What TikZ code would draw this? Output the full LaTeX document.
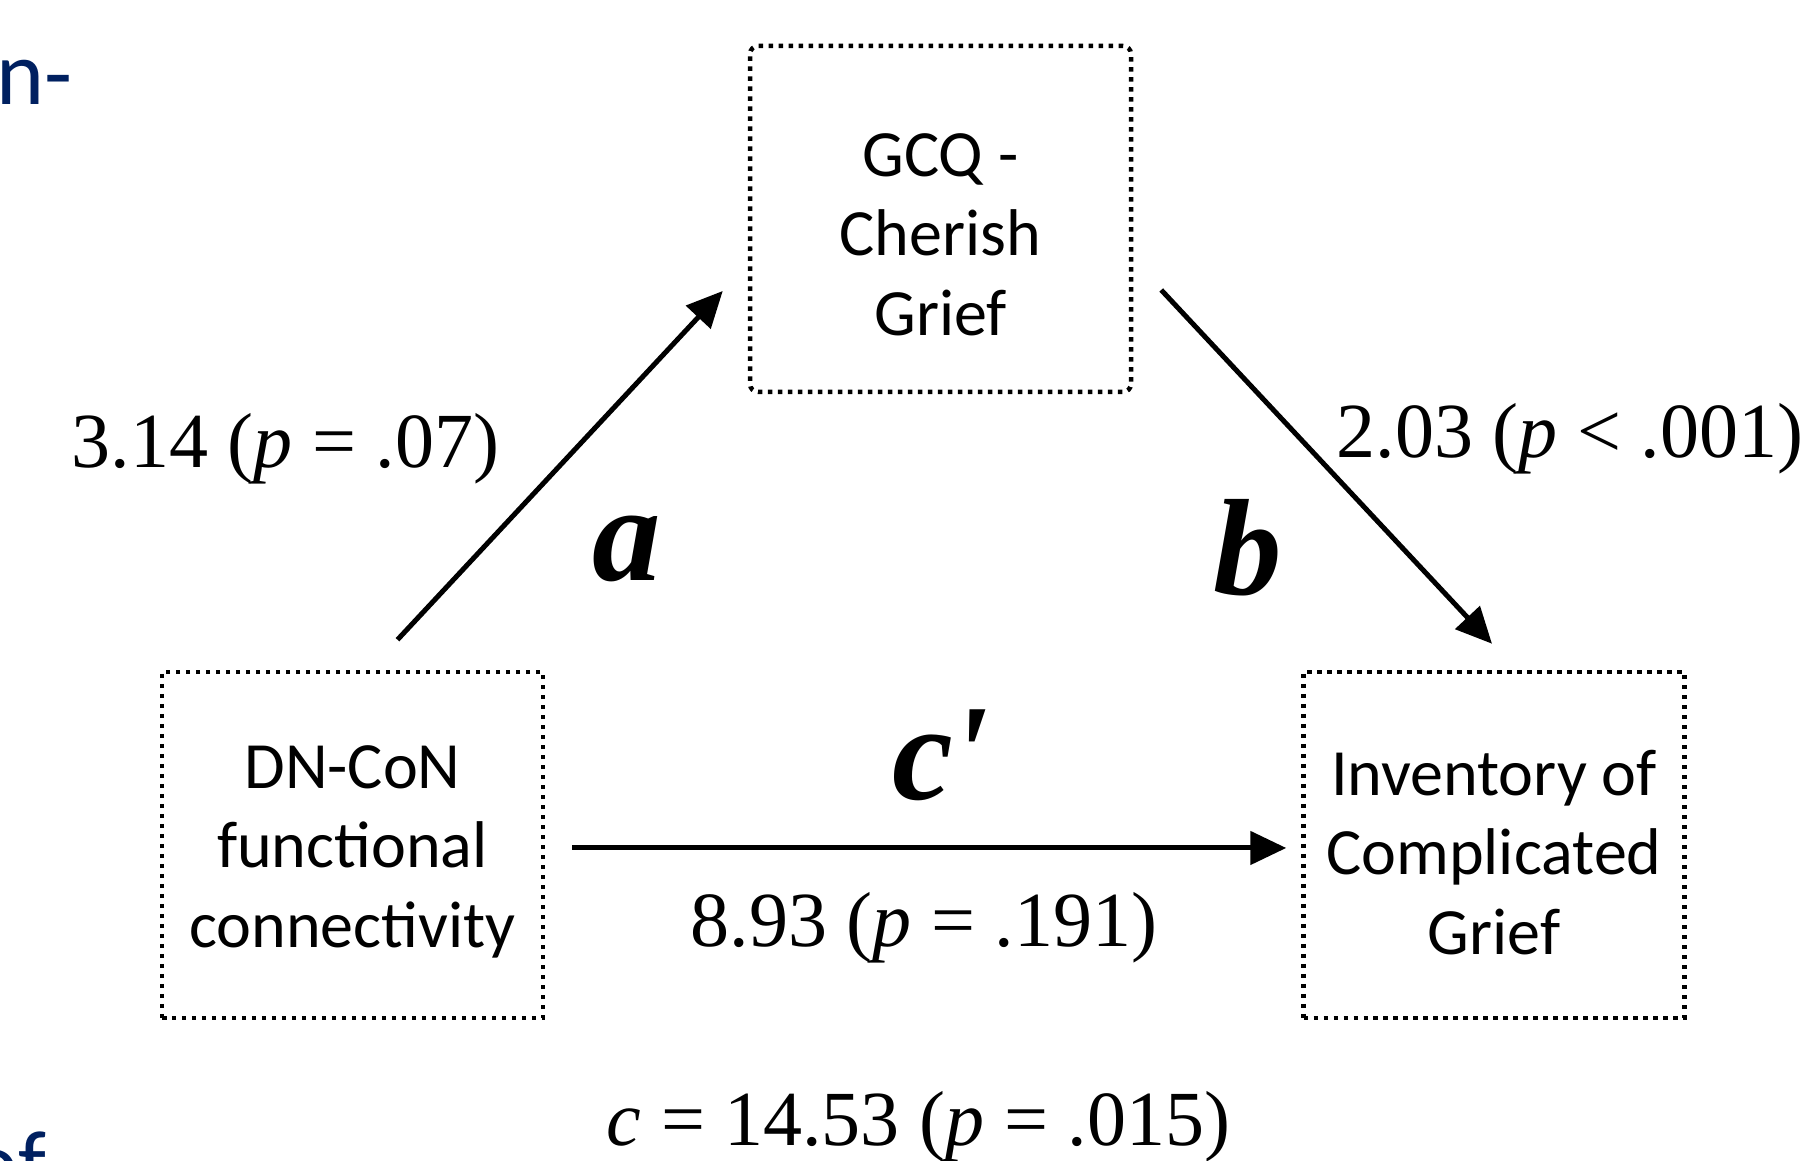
\documentclass[tikz,border=0pt]{standalone}
\usepackage{fontspec}
\setmainfont{Liberation Serif}
\newfontfamily\boxfont{Carlito}
\usetikzlibrary{positioning, arrows.meta}
\definecolor{slidenavy}{RGB}{0,32,96}
\newcommand{\firstline}[1]{\rule{0pt}{#1}}

\begin{document}
\begin{tikzpicture}[every node/.style={inner sep=0pt, align=center}, arrow/.style={-{Triangle[length=3.6mm, width=3.3mm]}, line width=0.05cm}]
        \tikzstyle{varbox} = [rectangle, draw=black, line width=0.045cm, dash pattern=on 0.045cm off 0.055cm, minimum width=3.81cm, minimum height=3.46cm, font=\boxfont\fontsize{18.8pt}{22.6pt}\selectfont]
        \tikzstyle{stat} = [font=\fontsize{22.2pt}{26pt}\selectfont, anchor=base]
        \tikzstyle{pathname} = [font=\fontsize{39pt}{45pt}\selectfont\bfseries\itshape, anchor=base]
        \tikzstyle{slidetext} = [font=\boxfont\fontsize{26pt}{30pt}\selectfont, text=slidenavy, anchor=base west]

        \useasboundingbox (0,0) rectangle (18.03,11.61);

        \node[varbox] (conn) at (3.525,3.16) {\firstline{16pt}DN-CoN\\functional\\connectivity};
        \node[varbox, right=7.56cm of conn] (icg) {\firstline{17pt}Inventory of\\Complicated\\Grief};
        \node[varbox, rounded corners=0.08cm, above right=2.755cm and 2.025cm of conn] (cherish) {\firstline{21pt}GCQ -\\Cherish\\Grief};

        \draw[arrow] ([xshift=0.45cm, yshift=0.30cm]conn.north) -- ([xshift=-0.25cm, yshift=-0.72cm]cherish.west);
        \draw[arrow] ([xshift=0.28cm, yshift=-0.71cm]cherish.east) -- ([xshift=-0.02cm, yshift=0.26cm]icg.north);
        \draw[arrow] ([xshift=0.27cm, yshift=-0.03cm]conn.east) -- ([xshift=-0.15cm, yshift=-0.03cm]icg.west);

        \node[stat, anchor=base west] (aval) at (0.71,6.93) {3.14 (\textit{p} = .07)};
        \node[pathname] (alab) at (6.27,5.80) {a};
        \node[pathname] (blab) at (12.48,5.66) {b};
        \node[stat, anchor=base west] (bval) at (13.36,7.03) {2.03 (\textit{p} < .001)};
        \node[pathname, anchor=base west] (cplab) at (8.92,3.61) {c\kern-0.02em\textquotesingle};
        \node[stat] (cpval) at (9.24,2.14) {8.93 (\textit{p} = .191)};
        \node[stat] (cval) at (9.185,0.15) {\textit{c} = 14.53 (\textit{p} = .015)};

        \node[slidetext] (topcut) at (-0.04,10.56) {n-};
        \node[slidetext] (bottomcut) at (-0.30,-0.34) {of};
    \end{tikzpicture}
\end{document}
